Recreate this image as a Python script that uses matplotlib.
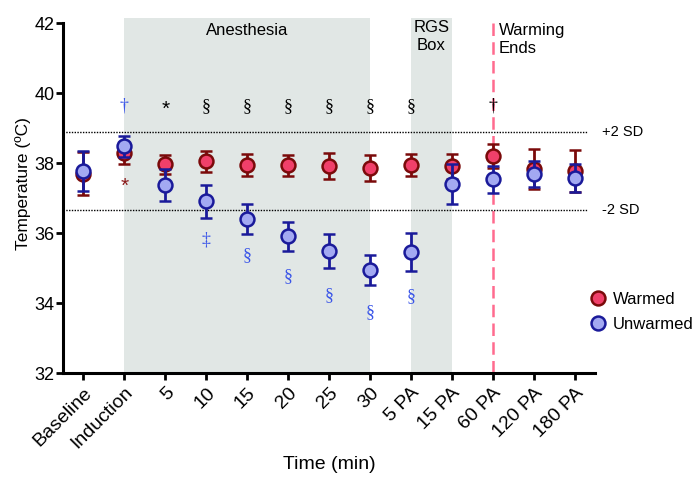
import numpy as np
import matplotlib
matplotlib.use("Agg")
import matplotlib.pyplot as plt
from matplotlib.lines import Line2D

plt.rcParams['font.family'] = ['Liberation Sans', 'DejaVu Sans']

# data
time_labels = ["Baseline", "Induction", "5", "10", "15", "20", "25", "30",
               "5 PA", "15 PA", "60 PA", "120 PA", "180 PA"]
warmed_mean = [37.70, 38.29, 37.97, 38.06, 37.94, 37.94, 37.91, 37.86,
               37.94, 37.91, 38.20, 37.83, 37.77]
warmed_err = [0.62, 0.32, 0.27, 0.30, 0.32, 0.30, 0.37, 0.38,
              0.31, 0.36, 0.34, 0.57, 0.60]
unwarmed_mean = [37.78, 38.49, 37.37, 36.91, 36.40, 35.91, 35.49, 34.94,
                 35.46, 37.40, 37.54, 37.69, 37.57]
unwarmed_err = [0.58, 0.30, 0.45, 0.48, 0.43, 0.42, 0.48, 0.43,
                0.53, 0.57, 0.39, 0.38, 0.40]

plus_2sd = 38.9
minus_2sd = 36.65

blue_txt = "#3a55e8"
# significance marks: (index, symbol, colour) on the top row
top_marks = [(1, "\u2020", blue_txt), (2, "*", "black"), (3, "\u00a7", "black"),
             (4, "\u00a7", "black"), (5, "\u00a7", "black"), (6, "\u00a7", "black"),
             (7, "\u00a7", "black"), (8, "\u00a7", "black"), (10, "\u2020", "black")]
top_y = 39.63
# marks below the points: (index, y, symbol, colour)
low_marks = [(1, 37.42, "*", "#8b1a1a"), (3, 35.80, "\u2021", blue_txt),
             (4, 35.37, "\u00a7", blue_txt), (5, 34.77, "\u00a7", blue_txt),
             (6, 34.20, "\u00a7", blue_txt), (7, 33.74, "\u00a7", blue_txt),
             (8, 34.17, "\u00a7", blue_txt)]

red_face, red_edge = "#f0406a", "#7a0a0a"
blue_face, blue_edge = "#a3a9f2", "#1a1a9a"

x = np.arange(len(time_labels))

fig = plt.figure(figsize=(7, 4.83), dpi=100)
ax = fig.add_axes([0.09, 0.2277, 0.76, 0.735])

ax.set_xlim(-0.5, 12.5)
ax.set_ylim(32, 42.15)

# shaded periods
ax.axvspan(1, 7, color="#e1e7e5", zorder=0, lw=0)
ax.axvspan(8, 9, color="#e1e7e5", zorder=0, lw=0)
ax.axvline(10, color="#ff6b8e", ls=(0, (5, 2.5)), lw=1.8, zorder=1)

# reference lines
ax.hlines([plus_2sd, minus_2sd], -0.5, 12.3, color="black",
          linestyles=[(0, (1, 1))], lw=1.0, zorder=1)

ax.errorbar(x, warmed_mean, yerr=warmed_err, fmt="o", ms=10,
            mfc=red_face, mec=red_edge, mew=1.8, ecolor=red_edge,
            elinewidth=2, capsize=4, capthick=2, zorder=3)
ax.errorbar(x, unwarmed_mean, yerr=unwarmed_err, fmt="o", ms=10,
            mfc=blue_face, mec=blue_edge, mew=1.8, ecolor=blue_edge,
            elinewidth=2, capsize=4, capthick=2, zorder=4)

def mark(xx, yy, sym, col):
    if sym == "*":
        ax.text(xx, yy - 0.08, sym, color=col, ha="center", va="center", fontsize=15)
    else:
        ax.text(xx, yy, sym, color=col, ha="center", va="center", fontsize=13,
                family=["Liberation Serif", "DejaVu Serif"])

for i, sym, col in top_marks:
    mark(i, top_y, sym, col)
for i, yy, sym, col in low_marks:
    mark(i, yy, sym, col)

ax.text(4, 41.78, "Anesthesia", ha="center", va="center", fontsize=12)
ax.text(8.5, 42.1, "RGS\nBox", ha="center", va="top", fontsize=12, linespacing=1.25)
ax.text(10.15, 42.0, "Warming\nEnds", ha="left", va="top", fontsize=12, linespacing=1.25)

ax.text(12.66, plus_2sd, "+2 SD", ha="left", va="center", fontsize=10.5, clip_on=False)
ax.text(12.66, minus_2sd, "-2 SD", ha="left", va="center", fontsize=10.5, clip_on=False)

ax.set_xticks(x)
ax.set_xticklabels(time_labels, rotation=45, ha="right", rotation_mode="anchor",
                   fontsize=14)
ax.set_yticks([32, 34, 36, 38, 40, 42])
ax.tick_params(axis="y", labelsize=13, width=2, length=5, pad=1)
ax.tick_params(axis="x", width=2, length=5, pad=3)

for s in ["top", "right"]:
    ax.spines[s].set_visible(False)
for s in ["left", "bottom"]:
    ax.spines[s].set_linewidth(2.2)
ax.spines["left"].set_bounds(32, 42)

ax.set_xlabel("Time (min)", fontsize=14)
ax.xaxis.set_label_coords(0.5, -0.235)
ax.set_ylabel("Temperature (\u00baC)", fontsize=12.5)
ax.yaxis.set_label_coords(-0.06, 0.535)

handles = [Line2D([], [], ls="none", marker="o", ms=10, mfc=red_face, mec=red_edge, mew=1.8),
           Line2D([], [], ls="none", marker="o", ms=10, mfc=blue_face, mec=blue_edge, mew=1.8)]
ax.legend(handles, ["Warmed", "Unwarmed"], loc="upper left",
          bbox_to_anchor=(0.99, 0.228), frameon=False, fontsize=12,
          handletextpad=0.4, borderaxespad=0, borderpad=0,
          handlelength=1.0, labelspacing=0.6)

fig.savefig("out.png", dpi=100)
